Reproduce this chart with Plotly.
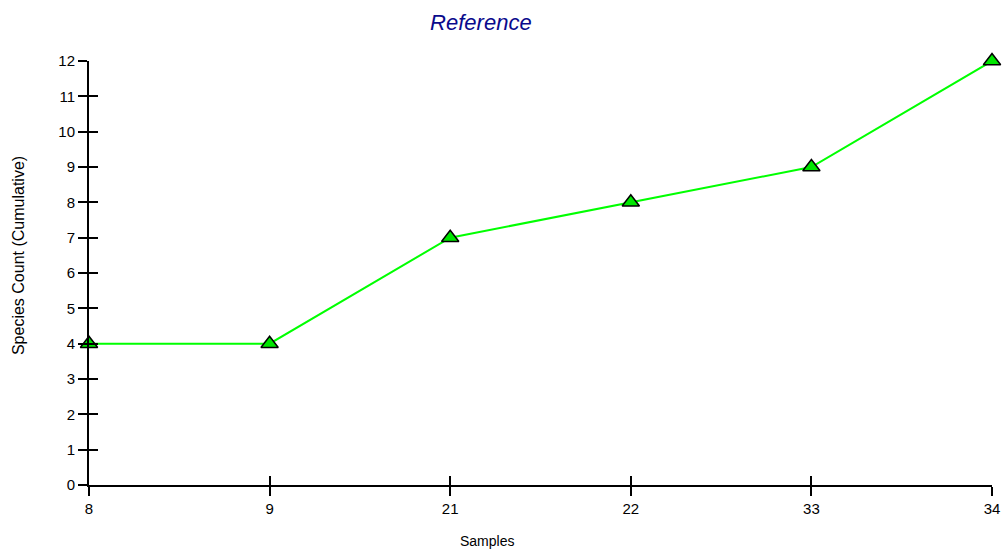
import plotly.graph_objects as go

samples = ["8", "9", "21", "22", "33", "34"]
species_count = [4, 4, 7, 8, 9, 12]
y_ticks = list(range(0, 13))

FONT = "Liberation Sans, Arial, sans-serif"

fig = go.Figure()
fig.add_trace(go.Scatter(
    x=samples, y=species_count, mode="lines+markers",
    line=dict(color="#00FF00", width=2),
    marker=dict(symbol="triangle-up", size=15, color="#00E600",
                line=dict(color="black", width=1.5)),
    cliponaxis=False, showlegend=False,
))
# invisible trace on overlay axes to carry inside ticks
fig.add_trace(go.Scatter(x=samples, y=species_count, xaxis="x2", yaxis="y2",
                         mode="markers", marker=dict(opacity=0), hoverinfo="skip",
                         showlegend=False))

common = dict(showgrid=False, zeroline=False, tickcolor="black", tickwidth=2, ticklen=9)

fig.update_layout(
    width=1006, height=552,
    margin=dict(l=89, r=6, t=61, b=67),
    paper_bgcolor="white", plot_bgcolor="white",
    font=dict(family=FONT, size=15, color="black"),
    title=dict(text="<i>Reference</i>", x=0.478, xref="container", xanchor="center",
               y=0.96, yref="container", yanchor="middle",
               font=dict(family=FONT, size=22, color="#0A0A8C")),
    xaxis=dict(type="category", range=[0, 5], showline=True, linecolor="black", linewidth=2,
               ticks="outside", tickfont=dict(size=15), **common),
    yaxis=dict(range=[0, 12], tickvals=y_ticks, showline=True, linecolor="black", linewidth=2,
               ticks="outside", tickfont=dict(size=15), **common),
    xaxis2=dict(type="category", range=[0, 5], overlaying="x", ticks="inside",
                showticklabels=False, showline=False, **common),
    yaxis2=dict(range=[0, 12], tickvals=y_ticks, overlaying="y", ticks="inside",
                showticklabels=False, showline=False, **common),
)
# axis titles placed in paper coordinates relative to plot area
plot_l, plot_r, plot_t, plot_b = 89, 993, 61, 485
pw, ph = plot_r - plot_l, plot_b - plot_t
fig.add_annotation(text="Samples", x=(487 - plot_l) / pw, xref="paper",
                   y=(plot_b - 541) / ph, yref="paper", showarrow=False,
                   font=dict(family=FONT, size=14), xanchor="center", yanchor="middle")
fig.add_annotation(text="Species Count (Cumulative)", textangle=-90, showarrow=False,
                   x=(18 - plot_l) / pw, xref="paper", y=(plot_b - 256) / ph, yref="paper",
                   font=dict(family=FONT, size=16), xanchor="center", yanchor="middle")

fig.write_html("out.html", config={"displayModeBar": False},
               post_script="document.body.style.margin='0';")
